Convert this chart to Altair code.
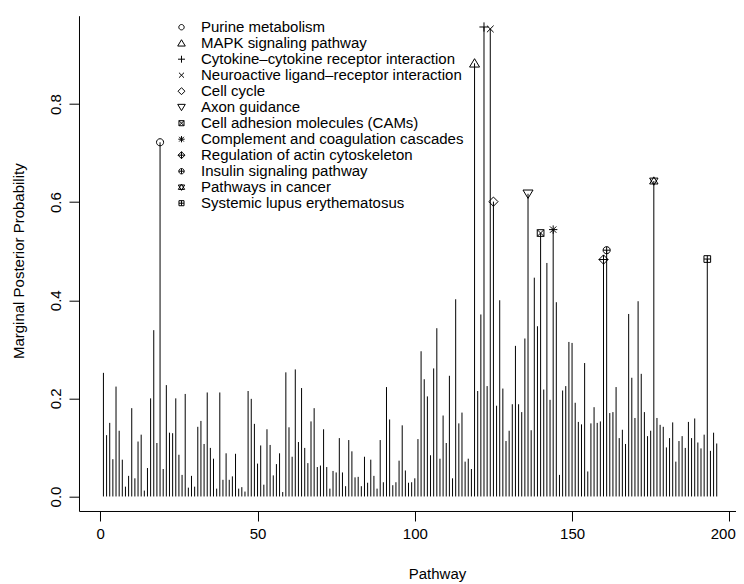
import altair as alt
import pandas as pd

values = [
    0.252, 0.125, 0.150, 0.076, 0.224, 0.134, 0.075, 0.020, 0.042, 0.180,
    0.037, 0.112, 0.126, 0.012, 0.058, 0.200, 0.339, 0.109, 0.722, 0.056,
    0.227, 0.130, 0.129, 0.200, 0.085, 0.044, 0.209, 0.018, 0.042, 0.020,
    0.142, 0.154, 0.107, 0.212, 0.099, 0.077, 0.016, 0.212, 0.034, 0.088,
    0.034, 0.041, 0.087, 0.016, 0.019, 0.010, 0.215, 0.199, 0.148, 0.067,
    0.104, 0.024, 0.137, 0.105, 0.043, 0.066, 0.088, 0.009, 0.253, 0.141,
    0.081, 0.259, 0.111, 0.221, 0.099, 0.068, 0.153, 0.180, 0.060, 0.063,
    0.137, 0.060, 0.016, 0.052, 0.049, 0.119, 0.049, 0.021, 0.115, 0.092,
    0.039, 0.040, 0.021, 0.081, 0.028, 0.075, 0.042, 0.016, 0.115, 0.029,
    0.223, 0.157, 0.023, 0.029, 0.073, 0.145, 0.053, 0.028, 0.029, 0.037,
    0.117, 0.296, 0.239, 0.204, 0.084, 0.261, 0.343, 0.077, 0.165, 0.109,
    0.246, 0.037, 0.402, 0.149, 0.171, 0.071, 0.077, 0.056, 0.883, 0.215,
    0.371, 0.957, 0.225, 0.953, 0.601, 0.185, 0.400, 0.220, 0.113, 0.134,
    0.188, 0.307, 0.188, 0.172, 0.322, 0.617, 0.135, 0.446, 0.347, 0.537,
    0.218, 0.476, 0.197, 0.544, 0.396, 0.044, 0.216, 0.225, 0.315, 0.313,
    0.191, 0.152, 0.147, 0.272, 0.051, 0.149, 0.182, 0.150, 0.153, 0.483,
    0.502, 0.170, 0.172, 0.223, 0.119, 0.136, 0.107, 0.372, 0.242, 0.160,
    0.398, 0.250, 0.172, 0.123, 0.134, 0.643, 0.160, 0.146, 0.142, 0.100,
    0.119, 0.151, 0.071, 0.113, 0.123, 0.099, 0.152, 0.119, 0.159, 0.110,
    0.098, 0.126, 0.484, 0.093, 0.130, 0.108,
]
pathway = list(range(1, len(values) + 1))

hl_index = [19, 119, 122, 124, 125, 136, 140, 144, 160, 161, 176, 193]
hl_names = [
    "Purine metabolism",
    "MAPK signaling pathway",
    "Cytokine–cytokine receptor interaction",
    "Neuroactive ligand–receptor interaction",
    "Cell cycle",
    "Axon guidance",
    "Cell adhesion molecules (CAMs)",
    "Complement and coagulation cascades",
    "Regulation of actin cytoskeleton",
    "Insulin signaling pathway",
    "Pathways in cancer",
    "Systemic lupus erythematosus",
]
x_ticks = [0, 50, 100, 150, 200]
y_ticks = [0.0, 0.2, 0.4, 0.6, 0.8]

shapes = [
    "M0.85,0A0.85,0.85,0,1,1,-0.85,0A0.85,0.85,0,1,1,0.85,0Z",
    "M0,-1.1L1.2,0.9L-1.2,0.9Z",
    "M-1.1,0H1.1M0,-1.1V1.1",
    "M-0.8,-0.8L0.8,0.8M-0.8,0.8L0.8,-0.8",
    "M0,-1.1L1.1,0L0,1.1L-1.1,0Z",
    "M0,1.1L1.2,-0.9L-1.2,-0.9Z",
    "M-0.8,-0.8H0.8V0.8H-0.8ZM-0.8,-0.8L0.8,0.8M-0.8,0.8L0.8,-0.8",
    "M-1,0H1M0,-1V1M-0.75,-0.75L0.75,0.75M-0.75,0.75L0.75,-0.75",
    "M0,-1.1L1.1,0L0,1.1L-1.1,0ZM-1.1,0H1.1M0,-1.1V1.1",
    "M0.85,0A0.85,0.85,0,1,1,-0.85,0A0.85,0.85,0,1,1,0.85,0ZM-0.85,0H0.85M0,-0.85V0.85",
    "M0,-1L1,0.7L-1,0.7ZM0,1L1,-0.7L-1,-0.7Z",
    "M-0.8,-0.8H0.8V0.8H-0.8ZM-0.8,0H0.8M0,-0.8V0.8",
]

FONT = "Liberation Sans"

bars = pd.DataFrame({"Pathway": pathway, "prob": values})
pts = pd.DataFrame({
    "Pathway": hl_index,
    "prob": [values[i - 1] for i in hl_index],
    "name": hl_names,
})

xs = alt.Scale(domain=[-6.77, 202], nice=False, zero=False)
ys = alt.Scale(domain=[-0.0296, 0.98], nice=False, zero=False)

x_axis = alt.Axis(
    values=x_ticks, format="d", title="Pathway",
    labelPadding=6, labelFlush=10, labelFlushOffset=6,
    titleX=358, titleY=68, titleBaseline="alphabetic",
    titleAlign="center", titleAnchor="start",
)
y_axis = alt.Axis(
    values=y_ticks, format=".1f", title="Marginal Posterior Probability",
    labelAngle=270, labelAlign="center", labelBaseline="alphabetic",
    labelPadding=8, titleAngle=270, titleX=-55.6, titleY=245,
    titleBaseline="alphabetic", titleAlign="center", titleAnchor="start",
)

rules = alt.Chart(bars).mark_rule(color="black", strokeWidth=1).encode(
    x=alt.X("Pathway:Q", scale=xs, axis=x_axis),
    y=alt.Y("prob:Q", scale=ys, axis=y_axis),
    y2=alt.datum(0),
)

points = alt.Chart(pts).mark_point(
    filled=False, color="black", size=70, strokeWidth=1, opacity=1
).encode(
    x=alt.X("Pathway:Q", scale=xs),
    y=alt.Y("prob:Q", scale=ys),
    shape=alt.Shape(
        "name:N",
        scale=alt.Scale(domain=hl_names, range=shapes),
        legend=alt.Legend(
            title=None, orient="none", legendX=95, legendY=4,
            labelFont=FONT, labelFontSize=15, labelColor="black",
            labelLimit=400, symbolSize=40, symbolStrokeWidth=1,
            symbolStrokeColor="black", symbolOpacity=1,
            rowPadding=-0.8, labelOffset=12, padding=0,
        ),
    ),
)

chart = alt.layer(rules, points).properties(
    width=656.6, height=495.3,
    padding={"left": 71, "top": 7.7, "right": 0, "bottom": 72},
    autosize="none",
).configure_view(stroke=None).configure_axis(
    labelFont=FONT, labelFontSize=15, labelColor="black",
    titleFont=FONT, titleFontSize=15, titleColor="black", titleFontWeight="normal",
    tickColor="black", tickSize=10, domainColor="black", grid=False,
    tickWidth=1, domainWidth=1,
)

chart.save("out.html", embed_options={"renderer": "svg", "actions": False})
